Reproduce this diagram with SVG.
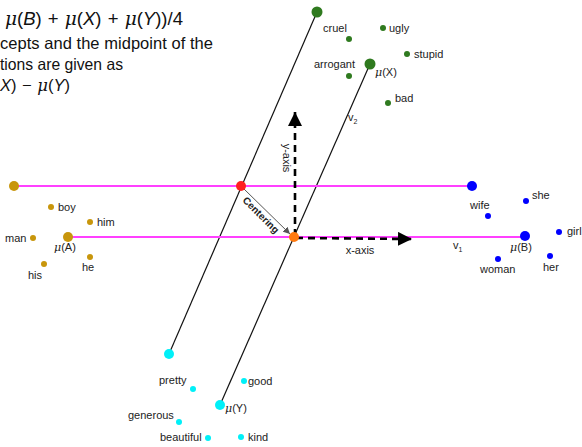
<svg xmlns="http://www.w3.org/2000/svg" width="582" height="447" viewBox="0 0 582 447">
<defs>
<style>
.lbl{font-family:"Liberation Sans",Arial,sans-serif;font-size:11px;fill:#222}
.mu{font-family:"DejaVu Serif","Liberation Serif",serif;font-style:italic}
.top{font-family:"Liberation Sans",Arial,sans-serif;font-size:16.5px;fill:#111}
.mi{font-style:italic}
.g{fill:#2f7a1f}.o{fill:#c8960c}.b{fill:#0000ff}.c{fill:#00f0f8}
.blk{stroke:#111;stroke-width:1.2;fill:none}
.mag{stroke:#ff40ff;stroke-width:2;fill:none}
.dash{stroke:#000;stroke-width:2.6;stroke-dasharray:7 5;fill:none}
</style>
<marker id="ah" viewBox="0 0 10 10" refX="10" refY="5" markerWidth="14" markerHeight="14" markerUnits="userSpaceOnUse" orient="auto"><path d="M0,0 L10,5 L0,10 z" fill="#000"/></marker>
<marker id="gh" viewBox="0 0 10 10" refX="10" refY="5" markerWidth="7" markerHeight="7" markerUnits="userSpaceOnUse" orient="auto"><path d="M0,0 L10,5 L0,10 z" fill="#555"/></marker>
</defs>
<rect width="582" height="447" fill="#fff"/>

<g id="annotation">
<text class="top" x="5" y="25" style="font-size:18.5px;white-space:pre"><tspan class="mu">μ</tspan>(<tspan class="mi">B</tspan>)<tspan dx="1"> + </tspan><tspan class="mu" dx="1">μ</tspan>(<tspan class="mi">X</tspan>)<tspan dx="1"> + </tspan><tspan class="mu" dx="1">μ</tspan>(<tspan class="mi">Y</tspan>))/4</text>
<text class="top" x="0" y="49" textLength="213" lengthAdjust="spacing">cepts and the midpoint of the</text>
<text class="top" x="0" y="70" textLength="123" lengthAdjust="spacingAndGlyphs">tions are given as</text>
<text class="top" x="0" y="91" style="white-space:pre"><tspan class="mi">X</tspan>)<tspan dx="1"> − </tspan><tspan class="mu" dx="1">μ</tspan>(<tspan class="mi">Y</tspan>)</text>
</g>

<g id="connectors">
<line class="blk" x1="169" y1="354" x2="317" y2="12"/>
<line class="blk" x1="220" y1="405" x2="370" y2="64"/>
<line class="mag" x1="14" y1="186" x2="472" y2="186"/>
<line class="mag" x1="68" y1="237" x2="525" y2="237"/>
<line x1="244" y1="189" x2="290" y2="234" stroke="#555" stroke-width="1" marker-end="url(#gh)"/>
<line class="dash" x1="296" y1="238" x2="412" y2="239" marker-end="url(#ah)"/>
<line class="dash" x1="295" y1="236" x2="295" y2="112" marker-end="url(#ah)"/>
<text x="258.5" y="217.5" transform="rotate(45 258.5 217.5)" text-anchor="middle" style="font-family:'Liberation Sans',Arial,sans-serif;font-size:10px;font-weight:bold;fill:#222">Centering</text>
<text class="lbl" x="360" y="254" text-anchor="middle">x-axis</text>
<text class="lbl" x="283" y="158" transform="rotate(90 283 158)" text-anchor="middle">y-axis</text>
<text class="lbl" x="348" y="121">v<tspan font-size="7" dy="3">2</tspan></text>
<text class="lbl" x="453" y="249">v<tspan font-size="7" dy="3">1</tspan></text>
</g>

<g id="centers">
<circle cx="241" cy="186" r="5" fill="#ff2020"/>
<circle cx="294" cy="237" r="5" fill="#ff7a10"/>
</g>

<g id="groupX">
<circle class="g" cx="317" cy="12" r="5.5"/>
<circle class="g" cx="370" cy="64" r="5.5"/>
<text class="lbl" x="375" y="76"><tspan class="mu">μ</tspan>(X)</text>
<circle class="g" cx="349" cy="39" r="3"/><text class="lbl" x="323" y="32">cruel</text>
<circle class="g" cx="383" cy="28" r="3"/><text class="lbl" x="389" y="32">ugly</text>
<circle class="g" cx="407" cy="54" r="3"/><text class="lbl" x="414" y="58">stupid</text>
<circle class="g" cx="349" cy="76" r="3"/><text class="lbl" x="314" y="68">arrogant</text>
<circle class="g" cx="388" cy="103" r="3"/><text class="lbl" x="395" y="102">bad</text>
</g>

<g id="groupA">
<circle class="o" cx="14" cy="186" r="5"/>
<circle class="o" cx="68" cy="237" r="5"/>
<text class="lbl" x="54" y="251"><tspan class="mu">μ</tspan>(A)</text>
<circle class="o" cx="51" cy="207" r="3"/><text class="lbl" x="58" y="211">boy</text>
<circle class="o" cx="90" cy="222" r="3"/><text class="lbl" x="97" y="226">him</text>
<circle class="o" cx="33" cy="238" r="3"/><text class="lbl" x="5" y="242">man</text>
<circle class="o" cx="90" cy="257" r="3"/><text class="lbl" x="82" y="271">he</text>
<circle class="o" cx="44" cy="264" r="3"/><text class="lbl" x="28" y="279">his</text>
</g>

<g id="groupB">
<circle class="b" cx="472" cy="186" r="5"/>
<circle class="b" cx="525" cy="236" r="5"/>
<text class="lbl" x="510" y="251"><tspan class="mu">μ</tspan>(B)</text>
<circle class="b" cx="526" cy="201" r="3"/><text class="lbl" x="532" y="199">she</text>
<circle class="b" cx="488" cy="216" r="3"/><text class="lbl" x="470" y="209">wife</text>
<circle class="b" cx="559" cy="232" r="3"/><text class="lbl" x="567" y="235">girl</text>
<circle class="b" cx="550" cy="256" r="3"/><text class="lbl" x="543" y="271">her</text>
<circle class="b" cx="498" cy="259" r="3"/><text class="lbl" x="480" y="273">woman</text>
</g>

<g id="groupY">
<circle class="c" cx="169" cy="354" r="5"/>
<circle class="c" cx="220" cy="405" r="5"/>
<text class="lbl" x="225" y="412"><tspan class="mu">μ</tspan>(Y)</text>
<circle class="c" cx="193" cy="389" r="3"/><text class="lbl" x="159" y="384">pretty</text>
<circle class="c" cx="244" cy="381" r="3"/><text class="lbl" x="248" y="385">good</text>
<circle class="c" cx="179" cy="422" r="3"/><text class="lbl" x="128" y="419">generous</text>
<circle class="c" cx="208" cy="438" r="3"/><text class="lbl" x="160" y="441">beautiful</text>
<circle class="c" cx="241" cy="437" r="3"/><text class="lbl" x="248" y="441">kind</text>
</g>
</svg>
